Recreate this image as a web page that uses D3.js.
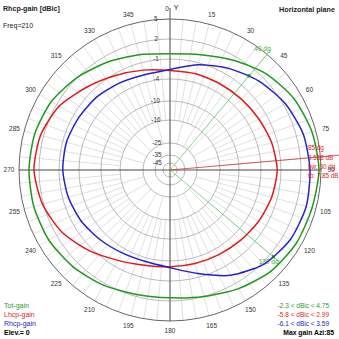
<!DOCTYPE html>
<html><head><meta charset="utf-8">
<script src="https://cdn.jsdelivr.net/npm/d3@7"></script>
<style>body{margin:0;background:#fff}svg{display:block}text{font-family:"Liberation Sans",Arial,sans-serif}.n{font-family:"Liberation Sans Narrow","Liberation Sans",Arial,sans-serif}</style>
</head><body><svg id="c" width="339" height="339"></svg>
<script>
// ---- data ----
const azimuths = d3.range(0, 360, 15);
const totGain  = [-0.21,0.26,1.37,2.75,3.8,4.4,4.7,4.4,4.25,3.8,2.9,2.0,1.53,1.68,2.3,2.9,3.35,3.5,3.5,3.35,2.9,2.0,1.05,0.26];
const lhcpGain = [-2.71,-2.71,-2.71,-2.57,-2.29,-1.86,-1.57,-1.86,-2.29,-2.71,-3.0,-3.14,-3.14,-2.86,-2.0,-0.53,1.05,2.15,2.75,2.45,1.53,-0.05,-1.29,-2.14];
const rhcpGain = [-2.57,-1.29,-0.05,1.21,2.3,3.05,3.35,3.5,3.2,2.3,0.58,-1.57,-3.0,-3.43,-3.29,-2.86,-2.29,-1.86,-1.57,-1.57,-1.86,-2.14,-2.57,-2.86];
const ringTicks = [5, 2, -1, -4, -10, -16, -25, -35, -45];
const angleLabels = d3.range(15, 360, 15);
const beamLines = [40, 130];
const maxAzimuth = 85;
const annot = ["85 dg", "3.588 dB", "bw: 30 dg", "fb: 7.85 dB"];
const legendLeft = [["Tot-gain","#1f9a1f"],["Lhcp-gain","#e01b1b"],["Rhcp-gain","#2222cc"],["Elev.= 0","#000"]];
const legendRight = [["-2.3 < dBic < 4.75","#1f9a1f"],["-5.8 < dBic < 2.99","#e01b1b"],["-6.1 < dBic < 3.59","#2222cc"],["Max gain Azi:85","#000"]];

// ---- chart ----
const svg = d3.select("#c");
const cx = 170, cy = 170, R = 151;
const r = d3.scaleLinear().domain([-55,-45,-35,-25,-16,-10,-4,-1,2,5]).range([0,7,15,27,50,69,91,111,131,R]).clamp(true);
const rad = d => d * Math.PI / 180;
const P = (a, rr) => [cx + rr * Math.sin(rad(a)), cy - rr * Math.cos(rad(a))];
const g = svg.append("g");

// spokes
d3.range(0, 360, 5).forEach(a => {
  const inner = a % 15 === 0 ? r(-25) : r(-16);
  const p0 = P(a, inner), p1 = P(a, R);
  g.append("line").attr("x1",p0[0]).attr("y1",p0[1]).attr("x2",p1[0]).attr("y2",p1[1])
   .attr("stroke","#d2d2d2").attr("stroke-width",0.7);
});
// rings
ringTicks.forEach(t => {
  g.append("circle").attr("cx",cx).attr("cy",cy).attr("r",r(t)).attr("fill","none")
   .attr("stroke", t === 5 ? "#666" : "#a8a8a8").attr("stroke-width", t === 5 ? 1 : 0.8);
});
// main axes
[[0,180],[90,270]].forEach(([a,b]) => {
  const p0 = P(a, a===0 ? 162 : R), p1 = P(b, R);
  g.append("line").attr("x1",p0[0]).attr("y1",p0[1]).attr("x2",p1[0]).attr("y2",p1[1])
   .attr("stroke","#444").attr("stroke-width",0.9);
});
// ring labels
ringTicks.forEach(t => {
  g.append("text").attr("x", cx - 8 - r(t)*0.03).attr("y", cy - r(t)).attr("dy","0.35em")
   .attr("text-anchor","end").attr("font-size",6.3).attr("fill","#333").text(t);
});
// angle labels
angleLabels.forEach(a => {
  const p = P(a, 161);
  g.append("text").attr("x",p[0]).attr("y",p[1]).attr("dy","0.35em").attr("text-anchor","middle")
   .attr("font-size",6.5).attr("fill","#333").text(a);
});
{ const p = P(0, 161);
  g.append("text").attr("x",p[0]-3).attr("y",p[1]).attr("dy","0.35em").attr("text-anchor","middle").attr("font-size",6.5).attr("fill","#333").text("0");
  g.append("text").attr("x",p[0]+6).attr("y",p[1]-1).attr("dy","0.35em").attr("text-anchor","middle").attr("font-size",7).attr("fill","#111").text("Y"); }

// curves
const line = d3.lineRadial().angle(d => rad(d[0])).radius(d => r(d[1])).curve(d3.curveCardinalClosed.tension(0.3));
const series = [[totGain,"#1f9a1f"],[lhcpGain,"#e01b1b"],[rhcpGain,"#2222cc"]];

// beam lines
beamLines.forEach((a,i) => {
  const rr = i === 0 ? 158 : 143;
  const p = P(a, rr);
  g.append("line").attr("x1",cx).attr("y1",cy).attr("x2",p[0]).attr("y2",p[1]).attr("stroke","#5cc85c").attr("stroke-width",0.7);
  g.append("text").attr("class","n").attr("x",p[0]-1).attr("y",p[1]).attr("dy","0.35em").attr("text-anchor","end")
   .attr("font-size",6.5).attr("fill","#3cb43c").text(a + " dg");
});
// max gain line
{ const p = P(maxAzimuth, 175);
  g.append("line").attr("x1",cx).attr("y1",cy).attr("x2",p[0]).attr("y2",p[1]).attr("stroke","#d03030").attr("stroke-width",0.8); }

series.forEach(([vals,col]) => {
  g.append("path").attr("transform",`translate(${cx},${cy})`)
   .attr("d", line(azimuths.map((a,i) => [a, vals[i]])))
   .attr("fill","none").attr("stroke",col).attr("stroke-width",1.5);
});
// markers where the beam lines meet the Rhcp curve
beamLines.forEach(a => {
  const i = Math.floor(a / 15), f = (a - azimuths[i]) / 15;
  const v = rhcpGain[i] + (rhcpGain[(i+1) % 24] - rhcpGain[i]) * f;
  const p = P(a, r(v));
  g.append("rect").attr("x",p[0]-1.5).attr("y",p[1]-1.5).attr("width",3).attr("height",3).attr("fill","#1a7a1a");
});

// annotation
annot.forEach((t,i) => {
  g.append("text").attr("class","n").attr("x",308).attr("y",148 + i*9.3).attr("dy","0.35em").attr("font-size",6.3)
   .attr("fill","#e01b1b").text(t);
});

// titles
svg.append("text").attr("x",3).attr("y",11).attr("font-size",7.1).attr("font-weight","bold").attr("fill","#222").text("Rhcp-gain [dBic]");
svg.append("text").attr("x",3).attr("y",28).attr("font-size",7).attr("fill","#222").text("Freq=210");
svg.append("text").attr("x",335).attr("y",12).attr("text-anchor","end").attr("font-size",7.2).attr("font-weight","bold").attr("fill","#222").text("Horizontal plane");
legendLeft.forEach(([t,c],i) => svg.append("text").attr("x",4).attr("y",308 + i*9).attr("font-size",7).attr("fill",c).attr("font-weight", i===3?"bold":"normal").text(t));
legendRight.forEach(([t,c],i) => svg.append("text").attr("class", i===3?null:"n").attr("x",i===3?334:329).attr("y",308 + i*9).attr("text-anchor","end").attr("font-size",i===3?6.8:6.5).attr("fill",c).attr("font-weight", i===3?"bold":"normal").text(t));
</script></body></html>
